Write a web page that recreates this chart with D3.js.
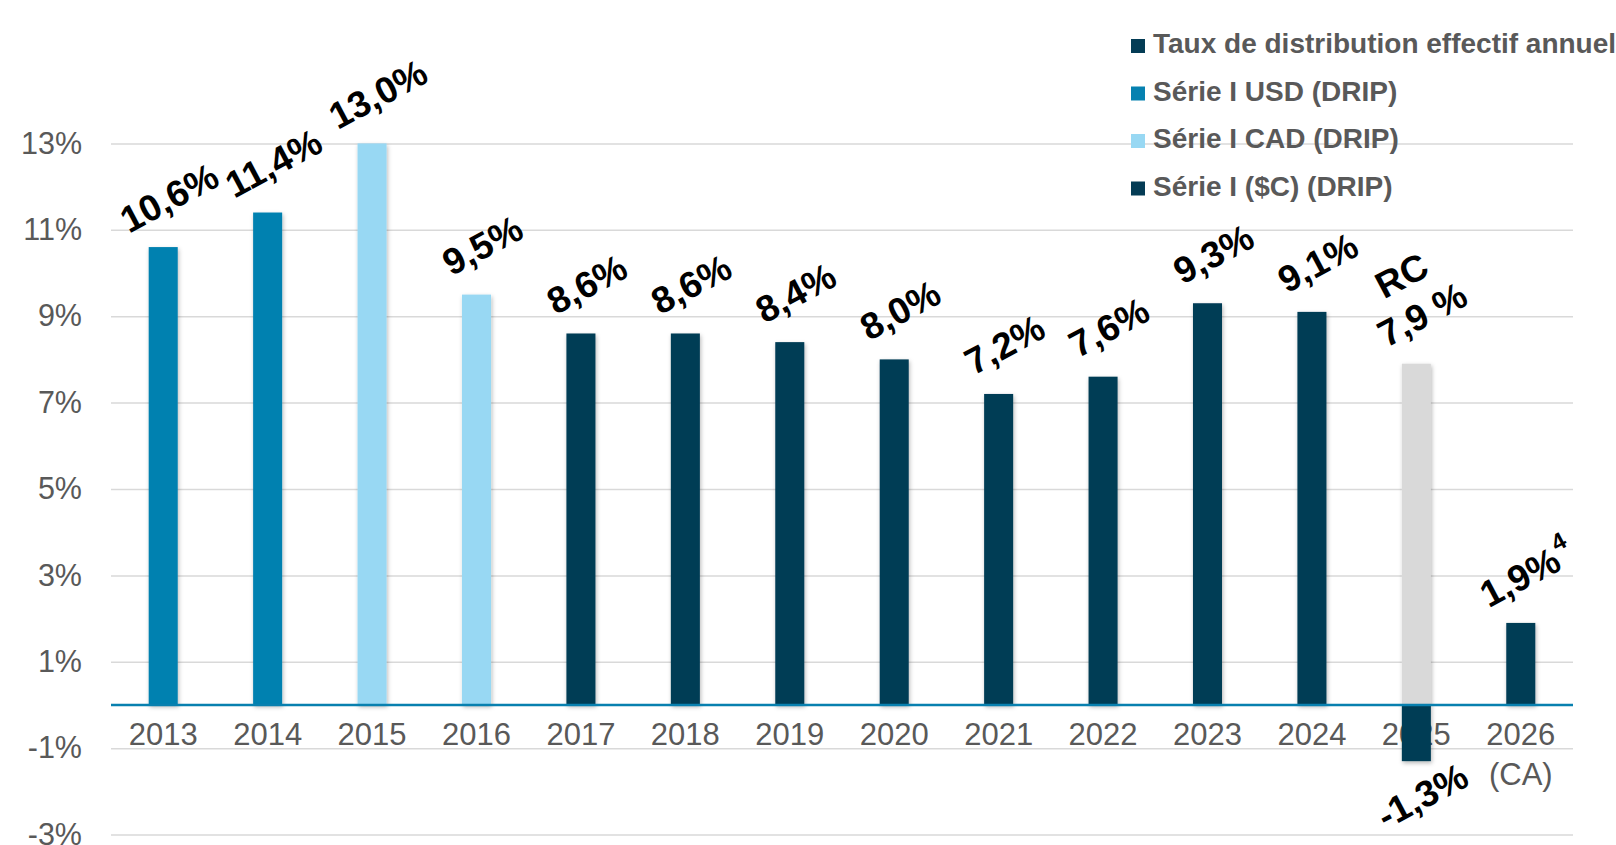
<!DOCTYPE html>
<html>
<head>
<meta charset="utf-8">
<script src="https://cdn.jsdelivr.net/npm/d3@7"></script>
<style>
  html, body { margin: 0; padding: 0; background: #fff; }
  svg { display: block; font-family: "Liberation Sans", Arial, sans-serif; }
</style>
</head>
<body>
<svg id="chart" width="1616" height="845"></svg>
<script>
// data (percent)
const years = ['2013', '2014', '2015', '2016', '2017', '2018', '2019', '2020', '2021', '2022', '2023', '2024', '2025', '2026'];
const yearNotes = {'2026': '(CA)'};
const usdValues = [10.6, 11.4, null, null, null, null, null, null, null, null, null, null, null, null];
const cadValues = [null, null, 13.0, 9.5, null, null, null, null, null, null, null, null, null, null];
const cdnValues = [null, null, null, null, 8.6, 8.6, 8.4, 8.0, 7.2, 7.6, 9.3, 9.1, -1.3, 1.9];
const rcValues  = [null, null, null, null, null, null, null, null, null, null, null, null, 7.9, null];
const labelFootnotes = {'2026': '4'};
const yTicks = [-3, -1, 1, 3, 5, 7, 9, 11, 13];
const legendNames = ['Taux de distribution effectif annuel', 'Série I USD (DRIP)', 'Série I CAD (DRIP)', 'Série I ($C) (DRIP)'];

const colors = {
    dark: '#043c55',
    usd: '#0681b0',
    cad: '#98d8f3',
    rc: '#d9d9d9',
    text: '#595959',
    grid: '#d9d9d9',
    zero: '#0880af'
};
const legendColors = [colors.dark, colors.usd, colors.cad, colors.dark];

const plot = {left: 111, right: 1573};
const svg = d3.select('#chart');

const x = d3.scaleBand()
    .domain(years)
    .range([plot.left, plot.right])
    .paddingInner(0.722)
    .paddingOuter(0.361);

const y = d3.scaleLinear()
    .domain([-3, 13])
    .range([834.6, 143.4]);

// soft shadow under bars
svg.append('defs').append('filter')
    .attr('id', 'barShadow')
    .attr('x', '-30%').attr('y', '-10%')
    .attr('width', '160%').attr('height', '130%')
    .append('feDropShadow')
    .attr('dx', 1).attr('dy', 2)
    .attr('stdDeviation', 2)
    .attr('flood-color', '#000')
    .attr('flood-opacity', 0.28);

// y axis + gridlines
const yAxis = svg.append('g')
    .attr('transform', `translate(${plot.left},0)`)
    .call(d3.axisLeft(y)
        .tickValues(yTicks)
        .tickSize(-(plot.right - plot.left))
        .tickPadding(29)
        .tickFormat(d => d + '%'));
yAxis.select('.domain').remove();
yAxis.selectAll('.tick line').attr('stroke', colors.grid).attr('stroke-width', 1.5);
yAxis.selectAll('.tick text')
    .attr('fill', colors.text)
    .style('font-size', '30.5px')
    .style('font-family', '"Liberation Sans", Arial, sans-serif');

// x axis labels
const xAxis = svg.append('g')
    .attr('transform', `translate(0,${y(0)})`)
    .call(d3.axisBottom(x).tickSize(0).tickPadding(18));
xAxis.select('.domain').remove();
xAxis.selectAll('.tick text')
    .attr('fill', colors.text)
    .style('font-size', '31px')
    .style('font-family', '"Liberation Sans", Arial, sans-serif')
    .each(function(d) {
        if (!yearNotes[d]) return;
        let t = d3.select(this);
        t.text(null);
        t.append('tspan').attr('x', 0).text(d);
        t.append('tspan').attr('x', 0).attr('dy', 40).text(yearNotes[d]);
    });

// bars
function drawBars(values, color) {
    let data = years.map((yr, i) => ({year: yr, value: values[i]})).filter(d => d.value != null);
    svg.append('g')
        .attr('filter', 'url(#barShadow)')
        .selectAll('rect')
        .data(data)
        .enter()
        .append('rect')
        .attr('x', d => x(d.year))
        .attr('width', x.bandwidth())
        .attr('y', d => y(Math.max(0, d.value)))
        .attr('height', d => Math.abs(y(d.value) - y(0)))
        .attr('fill', color);
    return data;
}

const usdBars = drawBars(usdValues, colors.usd);
const cadBars = drawBars(cadValues, colors.cad);
const rcBars = drawBars(rcValues, colors.rc);
const cdnBars = drawBars(cdnValues, colors.dark);

// zero line on top of the bars
svg.append('line')
    .attr('x1', plot.left).attr('x2', plot.right)
    .attr('y1', y(0)).attr('y2', y(0))
    .attr('stroke', colors.zero)
    .attr('stroke-width', 2.5);

// value labels, rotated like the original (plain hyphen for negatives)
const fmt = v => d3.format('.1f')(v).replace('.', ',').replace('\u2212', '-');
const labelAngle = -28;
const labels = svg.append('g')
    .style('font-size', '37px')
    .style('font-weight', 'bold')
    .attr('fill', '#000');

function placeLabel(d) {
    let cx = x(d.year) + x.bandwidth() / 2 + 12;
    let ay = d.value >= 0 ? y(d.value) - 38 : y(d.value) + 46;
    return labels.append('g')
        .attr('transform', `translate(${cx},${ay}) rotate(${labelAngle})`);
}

usdBars.concat(cadBars, cdnBars).forEach(d => {
    let t = placeLabel(d).append('text')
        .attr('text-anchor', 'middle')
        .text(fmt(d.value) + '%');
    if (labelFootnotes[d.year]) {
        t.append('tspan')
            .attr('dy', -18)
            .attr('dx', 2)
            .style('font-size', '24px')
            .text(labelFootnotes[d.year]);
    }
});

rcBars.forEach(d => {
    let g = placeLabel(d);
    g.append('text').attr('text-anchor', 'middle').attr('y', -44).text('RC');
    g.append('text').attr('text-anchor', 'middle').text(fmt(d.value) + ' %');
});

// legend
const legend = svg.append('g')
    .attr('transform', 'translate(1131,53)');
const legendRow = legend.selectAll('g')
    .data(legendNames)
    .enter()
    .append('g')
    .attr('transform', (d, i) => `translate(0,${i * 47.5})`);
legendRow.append('rect')
    .attr('y', -14)
    .attr('width', 14)
    .attr('height', 14)
    .attr('fill', (d, i) => legendColors[i]);
legendRow.append('text')
    .attr('x', 22)
    .attr('fill', colors.text)
    .style('font-size', '28px')
    .style('font-weight', 'bold')
    .text(d => d);
</script>
</body>
</html>
